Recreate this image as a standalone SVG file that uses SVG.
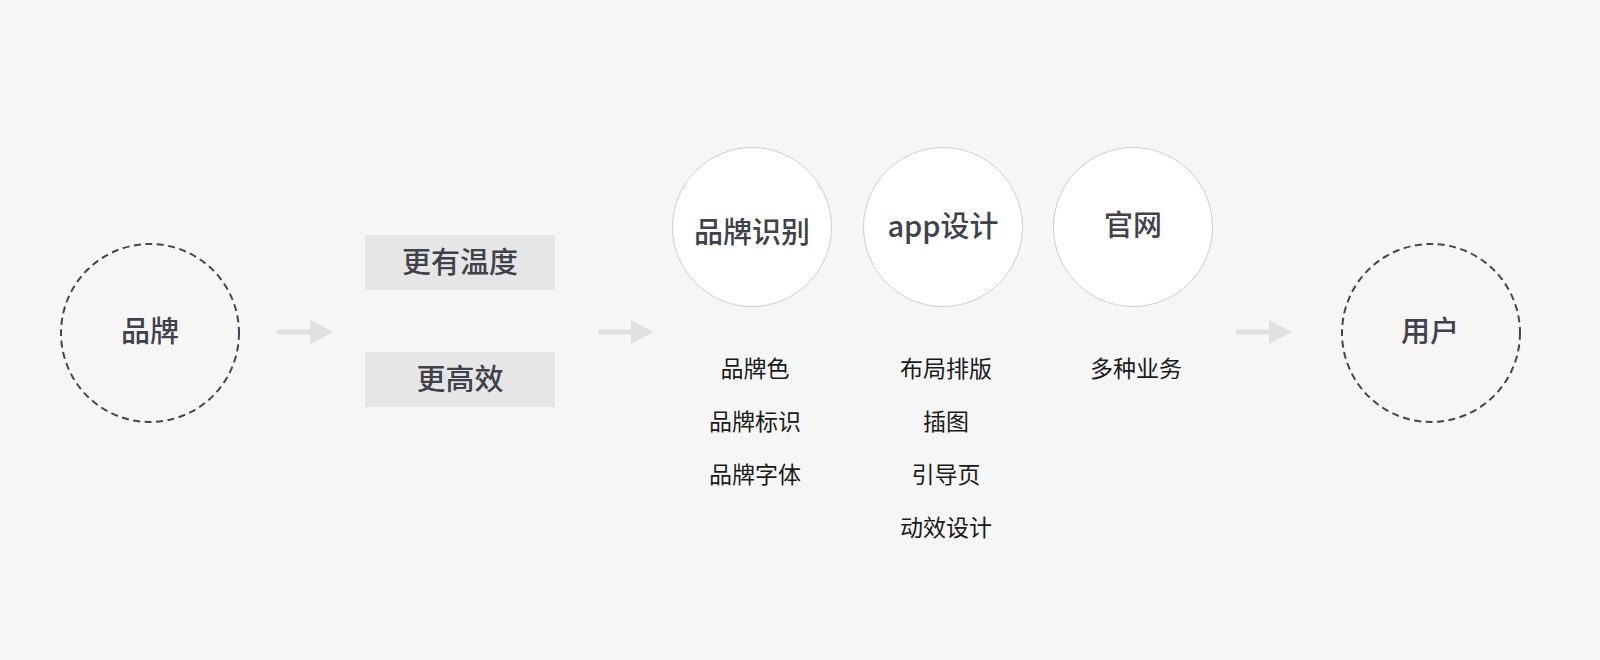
<svg xmlns="http://www.w3.org/2000/svg" width="1600" height="660" viewBox="0 0 1600 660">
<defs>
<style>
.bg{fill:#f6f6f6}
.dash{fill:none;stroke:#44454f;stroke-width:2;stroke-dasharray:7 4.5}
.solid{fill:#ffffff;stroke:#cfcfcf;stroke-width:1}
.box{fill:#e6e6e6}
.t{font-family:"Noto Sans CJK SC","Noto Sans",sans-serif;text-anchor:middle;dominant-baseline:central}
.main{font-size:29px;fill:#40414b;font-weight:500}
.sub{font-size:23px;fill:#1a1a1a}
.shaft{fill:none;stroke:#e0e1e3;stroke-width:5}
.head{fill:#e0e1e3}
</style>
</defs>
<rect class="bg" x="0" y="0" width="1600" height="660"/>
<g id="connectors">
<line class="shaft" x1="277" y1="332" x2="312" y2="332"/>
<polygon class="head" points="310,320 333,332 310,344"/>
<line class="shaft" x1="598" y1="332" x2="633" y2="332"/>
<polygon class="head" points="631,320 654,332 631,344"/>
<line class="shaft" x1="1236" y1="332" x2="1271" y2="332"/>
<polygon class="head" points="1269,320 1292,332 1269,344"/>
</g>
<g id="node-brand">
<circle class="dash" cx="150" cy="333" r="89"/>
<text class="t main" x="150" y="329">品牌</text>
</g>
<g id="node-warm">
<rect class="box" x="365" y="235" width="190" height="55"/>
<text class="t main" x="460" y="260">更有温度</text>
</g>
<g id="node-efficient">
<rect class="box" x="365" y="352" width="190" height="55"/>
<text class="t main" x="460" y="377">更高效</text>
</g>
<g id="node-brand-identity">
<circle class="solid" cx="752" cy="227" r="79.5"/>
<text class="t main" x="752" y="230">品牌识别</text>
<text class="t sub" x="755" y="367">品牌色</text>
<text class="t sub" x="755" y="420">品牌标识</text>
<text class="t sub" x="755" y="473">品牌字体</text>
</g>
<g id="node-app">
<circle class="solid" cx="943" cy="227" r="79.5"/>
<text class="t main" x="943" y="224">app设计</text>
<text class="t sub" x="946" y="367">布局排版</text>
<text class="t sub" x="946" y="420">插图</text>
<text class="t sub" x="946" y="473">引导页</text>
<text class="t sub" x="946" y="526">动效设计</text>
</g>
<g id="node-site">
<circle class="solid" cx="1133" cy="227" r="79.5"/>
<text class="t main" x="1133" y="223">官网</text>
<text class="t sub" x="1136" y="367">多种业务</text>
</g>
<g id="node-user">
<circle class="dash" cx="1431" cy="333" r="89"/>
<text class="t main" x="1430" y="329">用户</text>
</g>
</svg>
